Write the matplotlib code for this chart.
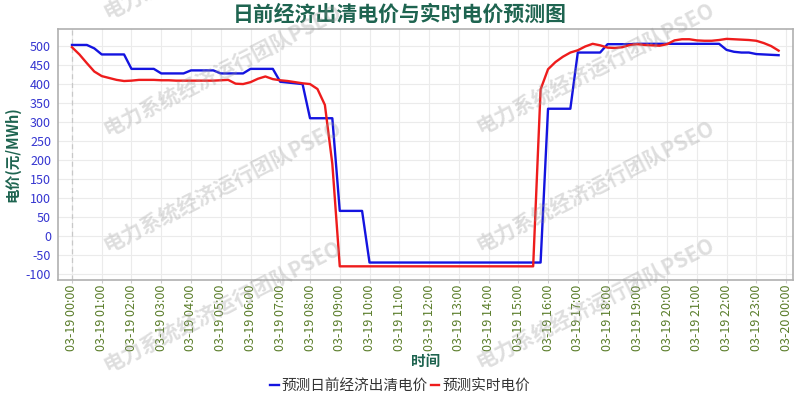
import matplotlib
matplotlib.use("Agg")
import matplotlib.pyplot as plt
import numpy as np

plt.rcParams['font.family'] = ['Noto Sans CJK SC', 'DejaVu Sans']
plt.rcParams['axes.unicode_minus'] = False

# 15-minute points, 03-19 00:00 .. 23:45 (hours)
hours = np.arange(96) * 0.25

# 预测日前经济出清电价 (4 values per hour)
day_ahead = [
    503, 503, 503, 494,
    478, 478, 478, 478,
    440, 440, 440, 440,
    428, 428, 428, 428,
    436, 436, 436, 436,
    428, 428, 428, 428,
    440, 440, 440, 440,
    406, 404, 402, 400,
    310, 310, 310, 310,
    66, 66, 66, 66,
    -70, -70, -70, -70,
    -70, -70, -70, -70,
    -70, -70, -70, -70,
    -70, -70, -70, -70,
    -70, -70, -70, -70,
    -70, -70, -70, -70,
    335, 335, 335, 335,
    483, 483, 483, 483,
    505, 505, 505, 505,
    506, 506, 506, 506,
    506, 506, 506, 506,
    506, 506, 506, 506,
    490, 485, 483, 483,
    479, 478, 477, 476,
]

# 预测实时电价
real_time = [
    497, 478, 455, 433,
    421, 416, 411, 408,
    409, 411, 411, 411,
    410, 410, 409, 409,
    409, 409, 409, 409,
    410, 411, 401, 400,
    405, 414, 420, 413,
    410, 408, 405, 402,
    400, 387, 345, 190,
    -80, -80, -80, -80,
    -80, -80, -80, -80,
    -80, -80, -80, -80,
    -80, -80, -80, -80,
    -80, -80, -80, -80,
    -80, -80, -80, -80,
    -80, -80, -80, 386,
    439, 458, 472, 483,
    489, 499, 506, 502,
    496, 495, 497, 503,
    505, 503, 502, 501,
    505, 515, 518, 518,
    515, 514, 514, 516,
    519, 518, 517, 516,
    514, 508, 500, 488,
]

tick_hours = list(range(25))
tick_labels = ["03-19 %02d:00" % h for h in range(24)] + ["03-20 00:00"]
y_ticks = [-100, -50, 0, 50, 100, 150, 200, 250, 300, 350, 400, 450, 500]

teal = '#1e6450'

fig = plt.figure(figsize=(8, 4), dpi=100)
ax = fig.add_axes([0.0725, 0.30, 0.919, 0.6275])

ax.plot(hours, day_ahead, color='#1414e0', lw=1.7, label='预测日前经济出清电价', zorder=3)
ax.plot(hours, real_time, color='#ee1c1c', lw=1.7, label='预测实时电价', zorder=3)
ax.axvline(0, color='#c8c8c8', lw=0.9, ls=(0, (4, 3)), zorder=2)

ax.set_xlim(-0.47, 24.24)
ax.set_ylim(-116, 545)
ax.set_xticks(tick_hours)
ax.set_xticklabels(tick_labels, rotation=90, fontsize=9, color='#5a7d2a')
ax.set_yticks(y_ticks)
ax.tick_params(axis='y', labelsize=9, labelcolor='#3535d0', length=0, pad=5)
ax.tick_params(axis='x', length=2, color='#cccccc', pad=1.5)
ax.grid(True, color='#ebebeb', lw=0.8)
ax.set_axisbelow(True)
for s in ax.spines.values():
    s.set_color('#b0b0b0')
    s.set_linewidth(1.2)

ax.set_ylabel('电价(元/MWh)', fontsize=10.5, fontweight='bold', color=teal, labelpad=4)
ax.set_xlabel('时间', fontsize=10.5, fontweight='bold', color=teal, labelpad=1)
fig.text(0.5, 0.965, '日前经济出清电价与实时电价预测图', ha='center', va='center',
         fontsize=15, fontweight='bold', color=teal)

leg = fig.legend(loc='center', bbox_to_anchor=(0.5, 0.035), ncol=2, frameon=False,
                 fontsize=10.5, handlelength=0.6, handletextpad=0.2, columnspacing=0.2)
for t in leg.get_texts():
    t.set_color('#333333')

# watermark
marks = [(222, -47), (222, 70), (222, 186), (222, 306),
         (595, 68), (595, 186), (595, 303)]
for cx, cy in marks:
    fig.text(cx / 800, 1 - cy / 400, '电力系统经济运行团队PSEO', ha='center', va='center',
             rotation=27, rotation_mode='anchor', fontsize=15, fontweight='bold',
             color='#9a9a9a', alpha=0.32, zorder=10)

fig.savefig('out.png', dpi=100)
